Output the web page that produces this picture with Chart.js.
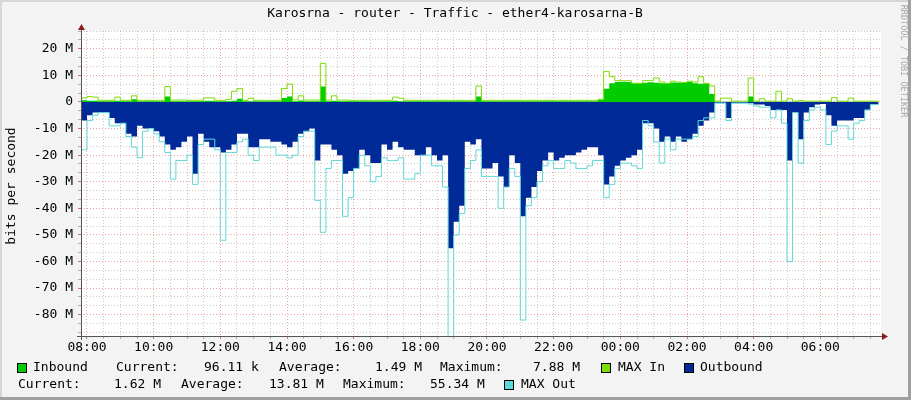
<!DOCTYPE html>
<html>
<head>
<meta charset="utf-8">
<title>Karosrna - router - Traffic - ether4-karosarna-B</title>
<script src="https://cdn.jsdelivr.net/npm/chart.js@4.4.1/dist/chart.umd.min.js"></script>
<style>
  html, body { margin: 0; padding: 0; background: #f3f3f3; }
  canvas { display: block; }
</style>
</head>
<body>
<canvas id="traffic" width="911" height="400"></canvas>
<script>
// 10 minute samples, first one starts at 07:50, values in Mbit/s
const startHour = 7 + 50 / 60;
const stepHours = 10 / 60;

const inbound = [
  0.3,
  0.6, 0.4, 0.4, 0.3, 0.3, 0.3,   // 08
  0.4, 0.3, 0.3, 1.0, 0.3, 0.3,   // 09
  0.3, 0.3, 0.3, 2.0, 0.3, 0.3,   // 10
  0.3, 0.3, 0.3, 0.3, 0.4, 0.4,   // 11
  0.3, 0.3, 0.3, 0.4, 1.2, 0.3,   // 12
  0.3, 0.3, 0.3, 0.3, 0.3, 0.3,   // 13
  1.5, 2.0, 0.3, 0.5, 0.3, 0.3,   // 14
  0.3, 5.8, 0.3, 0.4, 0.3, 0.3,   // 15
  0.3, 0.3, 0.3, 0.3, 0.3, 0.3,   // 16
  0.3, 0.3, 0.4, 0.3, 0.3, 0.3,   // 17
  0.3, 0.3, 0.3, 0.3, 0.3, 0.3,   // 18
  0.3, 0.3, 0.3, 0.3, 0.3, 2.0,   // 19
  0.3, 0.3, 0.3, 0.3, 0.3, 0.3,   // 20
  0.3, 0.3, 0.3, 0.3, 0.3, 0.3,   // 21
  0.3, 0.3, 0.3, 0.3, 0.3, 0.3,   // 22
  0.3, 0.3, 0.3, 0.8, 5.0, 7.0,   // 23
  7.5, 7.6, 7.5, 7.0, 7.0, 7.2,   // 00
  7.4, 7.2, 7.0, 7.0, 7.3, 7.2,   // 01
  7.3, 7.5, 7.0, 6.8, 6.8, 3.0,   // 02
  0.1, 0.1, 0.1, 0.1, 0.1, 0.1,   // 03
  2.0, 0.1, 0.1, 0.1, 0.1, 0.2,   // 04
  0.1, 0.1, 0.1, 0.1, 0.1, 0.1,   // 05
  0.1, 0.1, 0.1, 0.1, 0.1, 0.1,   // 06
  0.1, 0.1, 0.1, 0.1, 0.1         // 07
];

const maxIn = [
  0.6,
  1.5, 2.0, 1.8, 0.6, 0.6, 0.6,   // 08
  1.8, 0.6, 0.6, 2.3, 0.6, 0.6,   // 09
  0.6, 0.6, 0.6, 5.8, 0.7, 0.7,   // 10
  0.7, 0.6, 0.6, 0.6, 1.5, 1.5,   // 11
  0.6, 0.6, 1.0, 4.0, 5.0, 0.6,   // 12
  1.4, 0.6, 0.6, 0.6, 0.6, 0.6,   // 13
  5.0, 6.7, 0.8, 2.3, 0.7, 0.7,   // 14
  0.7, 14.5, 0.7, 2.3, 0.7, 0.7,  // 15
  0.6, 0.6, 0.6, 0.6, 0.6, 0.6,   // 16
  0.6, 0.6, 1.8, 1.4, 0.6, 0.6,   // 17
  0.6, 0.6, 0.6, 0.6, 0.6, 0.6,   // 18
  0.6, 0.6, 0.6, 0.6, 0.6, 6.0,   // 19
  0.6, 0.6, 0.6, 0.6, 0.6, 0.6,   // 20
  0.6, 0.6, 0.6, 0.6, 0.6, 0.6,   // 21
  0.6, 0.6, 0.6, 0.6, 0.6, 0.6,   // 22
  0.6, 0.6, 0.6, 1.0, 11.4, 9.5,  // 23
  8.0, 8.0, 8.0, 7.0, 7.0, 8.0,   // 00
  8.0, 9.0, 7.5, 7.0, 7.8, 7.5,   // 01
  7.3, 7.8, 7.5, 9.5, 7.0, 6.0,   // 02
  0.3, 1.4, 1.4, 0.3, 0.3, 0.3,   // 03
  9.0, 0.3, 1.2, 0.3, 0.3, 4.0,   // 04
  0.3, 1.2, 0.3, 0.5, 0.3, 0.3,   // 05
  0.3, 0.3, 0.3, 1.6, 0.3, 0.3,   // 06
  1.4, 0.3, 0.3, 0.3, 0.3         // 07
];

const outbound = [
  -3,
  -7, -5, -4, -4, -4, -6,         // 08
  -8, -8, -12, -13, -9, -10,      // 09
  -10, -11, -13, -16, -18, -17,   // 10
  -15, -13, -27, -12, -15, -17,   // 11
  -17, -19, -18, -16, -12, -12,   // 12
  -17, -17, -14, -14, -15, -15,   // 13
  -16, -17, -15, -12, -11, -10,   // 14
  -22, -16, -16, -18, -20, -27,   // 15
  -26, -25, -18, -20, -23, -23,   // 16
  -16, -18, -15, -17, -18, -18,   // 17
  -20, -20, -17, -20, -22, -20,   // 18
  -55, -45, -39, -15, -16, -14,   // 19
  -25, -25, -23, -28, -32, -20,   // 20
  -23, -43, -36, -32, -26, -22,   // 21
  -19, -22, -21, -20, -20, -19,   // 22
  -18, -17, -17, -20, -31, -28,   // 23
  -24, -22, -21, -20, -18, -8,    // 00
  -8, -10, -15, -13, -15, -13,    // 01
  -15, -14, -12, -9, -7, -4,      // 02
  -0.3, -0.3, -6, -0.3, -0.3, -0.3, // 03
  -0.5, -1, -1, -1.5, -3, -3,     // 04
  -3, -22, -4, -14, -4, -2,       // 05
  -1, -0.8, -5, -9, -7, -7,       // 06
  -7, -6, -6, -3, -1              // 07
];

const maxOut = [
  -2,
  -18, -7, -5, -4, -4, -9,        // 08
  -9, -8, -13, -17, -21, -11,     // 09
  -10, -12, -15, -19, -29, -22,   // 10
  -22, -20, -31, -16, -14, -14,   // 11
  -18, -52, -19, -19, -15, -14,   // 12
  -20, -22, -17, -17, -17, -20,   // 13
  -20, -21, -20, -13, -11, -11,   // 14
  -37, -49, -25, -22, -22, -43,   // 15
  -36, -25, -20, -24, -30, -28,   // 16
  -21, -22, -22, -21, -29, -29,   // 17
  -27, -20, -20, -24, -24, -32,   // 18
  -90, -50, -42, -25, -22, -18,   // 19
  -28, -28, -28, -40, -32, -25,   // 20
  -28, -82, -39, -36, -30, -24,   // 21
  -22, -25, -25, -22, -23, -25,   // 22
  -25, -24, -22, -22, -36, -31,   // 23
  -25, -23, -23, -24, -25, -7,    // 00
  -9, -15, -23, -14, -18, -14,    // 01
  -14, -14, -13, -7, -6, -6,      // 02
  -0.5, -0.5, -7, -0.5, -0.5, -0.5, // 03
  -0.8, -1.5, -2, -2, -6, -3,     // 04
  -8, -60, -4, -23, -7, -3,       // 05
  -2, -3, -16, -11, -9, -9,       // 06
  -14, -8, -7, -3, -1             // 07
];

const xTickLabels = ['08:00', '10:00', '12:00', '14:00', '16:00', '18:00',
                     '20:00', '22:00', '00:00', '02:00', '04:00', '06:00'];
const yTickValues = [20, 10, 0, -10, -20, -30, -40, -50, -60, -70, -80];
const yTickLabels = ['20 M', '10 M', '0', '-10 M', '-20 M', '-30 M', '-40 M',
                     '-50 M', '-60 M', '-70 M', '-80 M'];

const inboundStats = ['96.11 k', '1.49 M', '7.88 M'];
const outboundStats = ['1.62 M', '13.81 M', '55.34 M'];

const FONT = '"DejaVu Sans Mono", monospace';
const C_IN = '#00cc00';
const C_MAXIN = '#7ddc00';
const C_OUT = '#002a97';
const C_MAXOUT = '#60d8d8';

function toPoints(values) {
  const pts = values.map((v, i) => ({ x: startHour + i * stepHours, y: v }));
  pts.push({ x: startHour + (values.length - 0.5) * stepHours, y: values[values.length - 1] });
  return pts;
}

function isMajor(value, every) {
  const r = value / every;
  return Math.abs(r - Math.round(r)) < 1e-6;
}

function swatch(ctx, x, y, color) {
  ctx.fillStyle = color;
  ctx.fillRect(x, y, 10, 10);
  ctx.strokeStyle = '#000';
  ctx.lineWidth = 1;
  ctx.strokeRect(x + 0.5, y + 0.5, 9, 9);
}

const rrdLook = {
  id: 'rrdLook',
  beforeDraw(chart) {
    const { ctx, chartArea: a } = chart;
    ctx.save();
    ctx.fillStyle = '#f3f3f3';
    ctx.fillRect(0, 0, chart.width, chart.height);
    ctx.fillStyle = '#ffffff';
    ctx.fillRect(a.left, a.top, a.right - a.left, a.bottom - a.top);
    ctx.restore();
  },
  afterDraw(chart) {
    const { ctx, chartArea: a } = chart;
    const W = chart.width, H = chart.height;
    ctx.save();

    // frame shading
    ctx.fillStyle = '#d6d6d6';
    ctx.fillRect(0, 0, W, 2);
    ctx.fillRect(0, 0, 2, H);
    ctx.fillStyle = '#a0a0a0';
    ctx.fillRect(W - 3, 0, 3, H);
    ctx.fillRect(0, H - 3, W, 3);

    // axes with arrows
    ctx.strokeStyle = '#555';
    ctx.lineWidth = 1;
    ctx.beginPath();
    ctx.moveTo(a.left + 0.5, a.bottom + 4);
    ctx.lineTo(a.left + 0.5, a.top - 2);
    ctx.moveTo(a.left - 4, a.bottom + 0.5);
    ctx.lineTo(a.right + 3, a.bottom + 0.5);
    ctx.stroke();
    ctx.fillStyle = '#8b1a1a';
    ctx.beginPath();
    ctx.moveTo(a.left - 3, a.top - 1);
    ctx.lineTo(a.left + 4, a.top - 1);
    ctx.lineTo(a.left + 0.5, a.top - 7);
    ctx.closePath();
    ctx.fill();
    ctx.beginPath();
    ctx.moveTo(a.right + 1, a.bottom - 3);
    ctx.lineTo(a.right + 1, a.bottom + 4);
    ctx.lineTo(a.right + 7, a.bottom + 0.5);
    ctx.closePath();
    ctx.fill();

    // title
    ctx.fillStyle = '#000';
    ctx.font = '13px ' + FONT;
    ctx.textAlign = 'center';
    ctx.textBaseline = 'middle';
    ctx.fillText('Karosrna - router - Traffic - ether4-karosarna-B', 455, 14);

    // vertical axis label
    ctx.save();
    ctx.translate(12, 186);
    ctx.rotate(-Math.PI / 2);
    ctx.fillText('bits per second', 0, 0);
    ctx.restore();

    // watermark
    ctx.save();
    ctx.translate(903, 61);
    ctx.rotate(Math.PI / 2);
    ctx.fillStyle = '#a8a8a8';
    ctx.font = '8.5px ' + FONT;
    ctx.fillText('RRDTOOL / TOBI OETIKER', 0, 0);
    ctx.restore();

    // legend
    ctx.textAlign = 'left';
    ctx.font = '13px ' + FONT;
    const r1 = 368, r2 = 385;
    swatch(ctx, 17, r1 - 5, C_IN);
    ctx.fillStyle = '#000';
    ctx.fillText('Inbound', 33, r1);
    ctx.fillText('Current:', 116, r1);
    ctx.fillText(inboundStats[0], 204, r1);
    ctx.fillText('Average:', 279, r1);
    ctx.fillText(inboundStats[1], 375, r1);
    ctx.fillText('Maximum:', 440, r1);
    ctx.fillText(inboundStats[2], 533, r1);
    swatch(ctx, 601, r1 - 5, C_MAXIN);
    ctx.fillStyle = '#000';
    ctx.fillText('MAX In', 618, r1);
    swatch(ctx, 684, r1 - 5, C_OUT);
    ctx.fillStyle = '#000';
    ctx.fillText('Outbound', 700, r1);

    ctx.fillText('Current:', 18, r2);
    ctx.fillText(outboundStats[0], 114, r2);
    ctx.fillText('Average:', 181, r2);
    ctx.fillText(outboundStats[1], 269, r2);
    ctx.fillText('Maximum:', 343, r2);
    ctx.fillText(outboundStats[2], 430, r2);
    swatch(ctx, 504, r2 - 5, C_MAXOUT);
    ctx.fillStyle = '#000';
    ctx.fillText('MAX Out', 521, r2);

    ctx.restore();
  }
};

const lineBase = { stepped: 'after', pointRadius: 0, borderWidth: 1, fill: false };
const areaBase = { stepped: 'after', pointRadius: 0, borderWidth: 0, fill: 'origin' };

new Chart(document.getElementById('traffic'), {
  type: 'line',
  data: {
    datasets: [
      Object.assign({ label: 'MAX Out', data: toPoints(maxOut), borderColor: C_MAXOUT }, lineBase),
      Object.assign({ label: 'MAX In', data: toPoints(maxIn), borderColor: C_MAXIN }, lineBase),
      Object.assign({ label: 'Outbound', data: toPoints(outbound), backgroundColor: C_OUT, borderColor: C_OUT }, areaBase),
      Object.assign({ label: 'Inbound', data: toPoints(inbound), backgroundColor: C_IN, borderColor: C_IN }, areaBase)
    ]
  },
  options: {
    responsive: false,
    animation: false,
    devicePixelRatio: 1,
    layout: { padding: { top: 31, right: 30, left: 0, bottom: 0 } },
    plugins: { legend: { display: false }, title: { display: false }, tooltip: { enabled: false } },
    scales: {
      x: {
        type: 'linear',
        min: 7.82,
        max: 31.82,
        z: 1,
        afterBuildTicks: (scale) => {
          const ticks = [];
          for (let h = 8; h < 31.8; h += 0.5) ticks.push({ value: h });
          scale.ticks = ticks;
        },
        afterFit: (scale) => { scale.height = 64; },
        ticks: {
          autoSkip: false,
          maxRotation: 0,
          padding: 1,
          color: '#000',
          font: { family: FONT, size: 13 },
          callback: (v) => isMajor(v - 8, 2) ? xTickLabels[Math.round((v - 8) / 2)] : ''
        },
        grid: {
          lineWidth: 1,
          tickLength: 3,
          color: (c) => isMajor(c.tick.value, 2) ? 'rgba(225,70,70,0.5)' : 'rgba(140,140,140,0.45)',
          tickColor: (c) => isMajor(c.tick.value, 2) ? '#e07070' : '#b0b0b0'
        },
        border: { display: false, dash: [1, 2] }
      },
      y: {
        type: 'linear',
        min: -88,
        max: 80 / 3,
        z: 1,
        afterBuildTicks: (scale) => {
          const ticks = [];
          for (let k = 8; k >= -26; k--) ticks.push({ value: k * 10 / 3 });
          scale.ticks = ticks;
        },
        afterFit: (scale) => { scale.width = 81; },
        ticks: {
          autoSkip: false,
          padding: 5,
          color: '#000',
          font: { family: FONT, size: 13 },
          callback: (v) => {
            const i = yTickValues.findIndex((t) => Math.abs(t - v) < 0.01);
            return i >= 0 ? yTickLabels[i] : '';
          }
        },
        grid: {
          lineWidth: 1,
          tickLength: 3,
          color: (c) => isMajor(c.tick.value, 10) ? 'rgba(225,70,70,0.5)' : 'rgba(140,140,140,0.45)',
          tickColor: (c) => isMajor(c.tick.value, 10) ? '#e07070' : '#b0b0b0'
        },
        border: { display: false, dash: [1, 2] }
      }
    }
  },
  plugins: [rrdLook]
});
</script>
</body>
</html>
